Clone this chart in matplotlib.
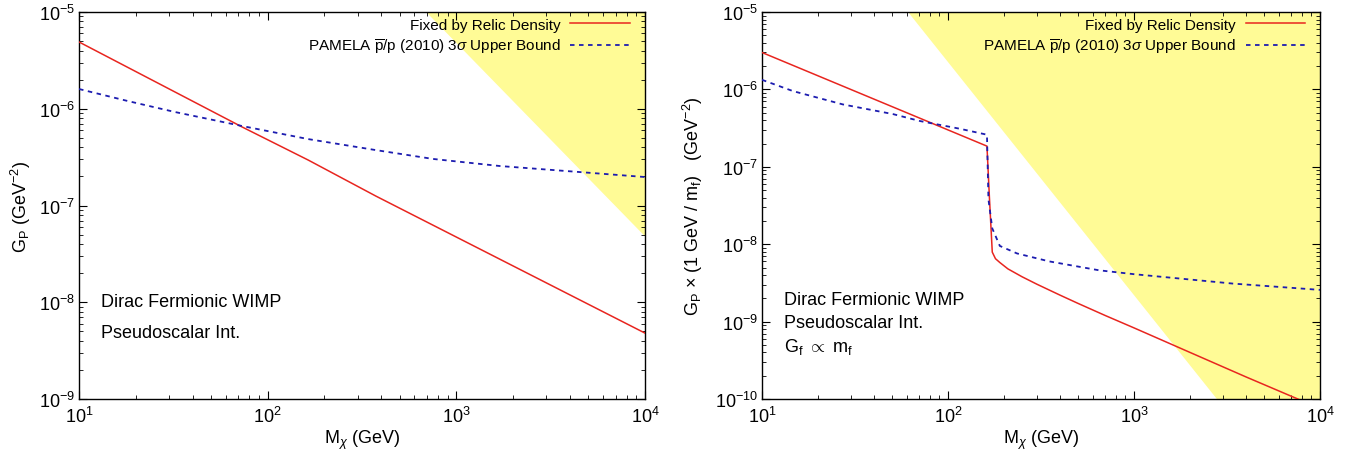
import matplotlib
matplotlib.use("Agg")
import matplotlib.pyplot as plt
from matplotlib.ticker import NullFormatter, LogLocator

plt.rcParams['font.family'] = ['Liberation Sans', 'DejaVu Sans']
plt.rcParams['mathtext.fontset'] = 'custom'
plt.rcParams['mathtext.rm'] = 'Liberation Sans'
plt.rcParams['mathtext.it'] = 'Liberation Sans:italic'
plt.rcParams['mathtext.bf'] = 'Liberation Sans:bold'

# ---------------- ticks ----------------
x_ticks = [1e1, 1e2, 1e3, 1e4]
x_tick_labels = [r'10$^{1}$', r'10$^{2}$', r'10$^{3}$', r'10$^{4}$']
left_y_ticks = [1e-9, 1e-8, 1e-7, 1e-6, 1e-5]
left_y_tick_labels = [r'10$^{-9}$', r'10$^{-8}$', r'10$^{-7}$', r'10$^{-6}$', r'10$^{-5}$']
right_y_ticks = [1e-10, 1e-9, 1e-8, 1e-7, 1e-6, 1e-5]
right_y_tick_labels = [r'10$^{-10}$', r'10$^{-9}$', r'10$^{-8}$', r'10$^{-7}$', r'10$^{-6}$', r'10$^{-5}$']

# ---------------- data (left panel) ----------------
left_relic_m = [10, 73, 164, 375, 10000]
left_relic_g = [4.9e-6, 6.5e-7, 2.95e-7, 1.25e-7, 4.8e-9]
left_pamela_m = [10, 18.2, 32.3, 73, 164, 371, 752, 1700, 3850, 10000]
left_pamela_g = [1.6e-6, 1.2e-6, 9.25e-7, 6.64e-7, 4.86e-7, 3.75e-7, 3.03e-7, 2.56e-7, 2.27e-7, 1.97e-7]
left_excl_m = [692, 10000, 10000]
left_excl_g = [1e-5, 4.8e-8, 1e-5]

# ---------------- data (right panel) ----------------
right_relic_m = [10, 162, 167, 173, 180, 190, 210, 250, 300, 400, 500, 700, 1000, 2000, 4000, 7600, 10000]
right_relic_g = [3.0e-6, 1.85e-7, 4.0e-8, 7.9e-9, 6.5e-9, 5.8e-9, 4.8e-9, 3.8e-9, 3.05e-9, 2.2e-9,
                 1.72e-9, 1.2e-9, 8.3e-10, 4.0e-10, 1.93e-10, 1.0e-10, 7.5e-11]
right_pamela_m = [10, 14.7, 27.2, 50.6, 70.8, 116, 162, 165, 173, 190, 235, 350, 650, 1000, 3400, 10000]
right_pamela_g = [1.33e-6, 9.5e-7, 6.4e-7, 4.8e-7, 3.9e-7, 3.1e-7, 2.6e-7, 3.8e-8, 1.6e-8, 9.5e-9,
                  7.6e-9, 6.0e-9, 4.6e-9, 4.1e-9, 3.1e-9, 2.57e-9]
right_excl_m = [61, 2790, 10000, 10000]
right_excl_g = [1e-5, 1e-10, 1e-10, 1e-5]

relic_label = 'Fixed by Relic Density'
pamela_label = r'PAMELA $\overline{\mathrm{p}}$/p (2010) 3$\sigma$ Upper Bound'

RED = '#e8251f'
BLUE = '#1c1cb0'
YELLOW = '#fffb96'

fig = plt.figure(figsize=(13.7, 4.6), dpi=100)
axL = fig.add_axes([0.0577, 0.1304, 0.4131, 0.8413])
axR = fig.add_axes([0.5562, 0.1304, 0.4073, 0.8413])


def style(ax, ylim, yt, ytl):
    ax.set_xscale('log')
    ax.set_yscale('log')
    ax.set_xlim(10, 1e4)
    ax.set_ylim(*ylim)
    ax.set_xticks(x_ticks)
    ax.set_xticklabels(x_tick_labels)
    ax.set_yticks(yt)
    ax.set_yticklabels(ytl)
    ax.xaxis.set_minor_locator(LogLocator(base=10, subs=range(2, 10)))
    ax.yaxis.set_minor_locator(LogLocator(base=10, subs=range(2, 10)))
    ax.xaxis.set_minor_formatter(NullFormatter())
    ax.yaxis.set_minor_formatter(NullFormatter())
    ax.set_xlim(10, 1e4)
    ax.set_ylim(*ylim)
    ax.tick_params(which='both', direction='in', top=True, right=True, labelsize=13)
    ax.tick_params(which='major', length=6, width=0.8)
    ax.tick_params(axis='y', which='major', pad=3)
    ax.tick_params(axis='x', which='major', pad=5)
    ax.tick_params(which='minor', length=3, width=0.6)
    for s in ax.spines.values():
        s.set_linewidth(1.0)
    ax.set_xlabel(r'M$_\chi$ (GeV)', fontsize=13, labelpad=1)


for ax, ylim, yt, ytl, rm, rg, pm, pg, em, eg in [
        (axL, (1e-9, 1e-5), left_y_ticks, left_y_tick_labels, left_relic_m, left_relic_g,
         left_pamela_m, left_pamela_g, left_excl_m, left_excl_g),
        (axR, (1e-10, 1e-5), right_y_ticks, right_y_tick_labels, right_relic_m, right_relic_g,
         right_pamela_m, right_pamela_g, right_excl_m, right_excl_g)]:
    style(ax, ylim, yt, ytl)
    ax.fill(em, eg, color=YELLOW, lw=0, zorder=0)
    ax.plot(rm, rg, color=RED, lw=1.1, label=relic_label, zorder=3)
    ax.plot(pm, pg, color=BLUE, lw=1.3, ls=(0, (2.5, 2.5)), label=pamela_label, zorder=3)
    leg = ax.legend(loc='upper right', bbox_to_anchor=(0.9735, 0.985), frameon=False, fontsize=11,
                    markerfirst=False, handlelength=3.9, handletextpad=0.65, labelspacing=0.3,
                    borderpad=0, borderaxespad=0)

axL.set_ylabel(r'G$_\mathrm{P}$ (GeV$^{-2}$)', fontsize=13, labelpad=4)
axR.set_ylabel(r'G$_\mathrm{P}$ $\times$ (1 GeV / m$_\mathrm{f}$)   (GeV$^{-2}$)', fontsize=13, labelpad=7)

axL.text(0.039, 0.251, 'Dirac Fermionic WIMP', transform=axL.transAxes, fontsize=13, va='center')
axL.text(0.039, 0.173, 'Pseudoscalar Int.', transform=axL.transAxes, fontsize=13, va='center')

axR.text(0.039, 0.258, 'Dirac Fermionic WIMP', transform=axR.transAxes, fontsize=13, va='center')
axR.text(0.039, 0.199, 'Pseudoscalar Int.', transform=axR.transAxes, fontsize=13, va='center')
axR.text(0.039, 0.137, r'G$_\mathrm{f}$ $\propto$ m$_\mathrm{f}$', transform=axR.transAxes, fontsize=13, va='center')

fig.savefig('out.png', dpi=100)
